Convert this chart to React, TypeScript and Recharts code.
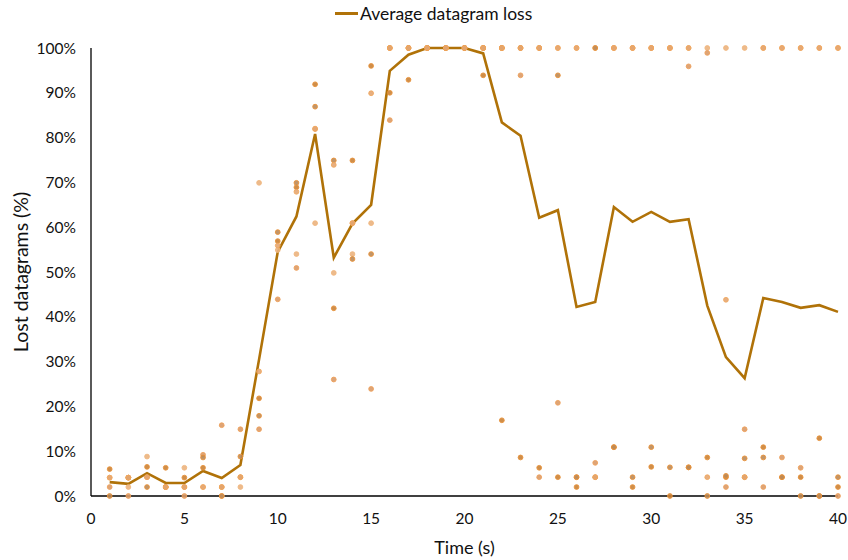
import React from "react";
import {
  ComposedChart,
  Line,
  Scatter,
  XAxis,
  YAxis,
} from "recharts";

// seconds 1..40
const times = Array.from({ length: 40 }, (_, i) => i + 1);

// average loss across the five runs (%)
const avgLoss = [
  3.1, 2.7, 5.1, 2.9, 2.9, 5.6, 4.0, 6.9, 30.5, 54.5, 62.4, 80.8, 53.2, 60.8,
  65.0, 94.9, 98.5, 100, 100, 100, 98.8, 83.4, 80.4, 62.1, 63.8, 42.2, 43.3,
  64.5, 61.2, 63.4, 61.2, 61.8, 42.5, 31.0, 26.3, 44.2, 43.3, 42.0, 42.6, 41.1,
];

// per-run loss (%)
const runA = [
  6.0, 4.1, 6.5, 6.3, 4.1, 6.3, 2.0, 4.2, 21.8, 56.9, 68.9, 91.9, 41.9, 74.9,
  96.0, 90.0, 92.9, 100, 100, 100, 93.9, 16.9, 8.6, 6.3, 4.2, 2.0, 4.2, 10.9,
  2.0, 6.5, 0, 6.4, 8.6, 4.2, 4.2, 10.9, 4.2, 4.2, 12.9, 2.0,
];
const runB = [
  4.1, 2.0, 8.8, 2.0, 6.3, 2.0, 0, 2.0, 69.9, 54.9, 54.0, 60.9, 49.8, 54.0,
  60.9, 100, 100, 100, 100, 100, 100, 100, 100, 100, 100, 100, 100, 100, 100,
  100, 100, 100, 100, 100, 100, 100, 100, 100, 100, 100,
];
const runC = [
  2.0, 0, 4.2, 2.0, 0, 9.2, 15.8, 14.9, 14.9, 43.9, 50.9, 81.9, 26.0, 60.9,
  23.9, 83.9, 100, 100, 100, 100, 100, 100, 93.9, 4.2, 20.8, 4.2, 7.4, 100,
  100, 100, 100, 95.9, 98.9, 2.0, 14.9, 2.0, 8.6, 6.3, 0, 0,
];
const runD = [
  0, 4.1, 2.0, 2.0, 2.0, 8.6, 0, 8.8, 17.9, 58.9, 69.9, 86.9, 74.9, 52.9,
  54.0, 100, 100, 100, 100, 100, 100, 100, 100, 100, 93.9, 4.2, 100, 10.9,
  4.2, 10.9, 6.4, 6.4, 0, 4.5, 8.4, 8.6, 4.2, 0, 0, 4.2,
];
const runE = [
  4.1, 4.1, 4.2, 2.0, 2.0, 2.0, 2.0, 4.2, 27.8, 55.9, 67.9, 82.0, 73.9, 60.9,
  89.9, 100, 100, 100, 100, 100, 100, 100, 100, 100, 100, 100, 4.2, 100, 100,
  100, 100, 100, 4.2, 43.8, 4.2, 100, 100, 100, 100, 100,
];

const xTicks = [0, 5, 10, 15, 20, 25, 30, 35, 40];
const yTicks = [0, 10, 20, 30, 40, 50, 60, 70, 80, 90, 100];

const runs = [
  { key: "a", values: runA, fill: "#c98237", stroke: "#e8923a" },
  { key: "b", values: runB, fill: "#eab27f", stroke: "#f1b77e" },
  { key: "c", values: runC, fill: "#d99a68", stroke: "#eea05a" },
  { key: "d", values: runD, fill: "#b98a5a", stroke: "#ea9136" },
  { key: "e", values: runE, fill: "#e3a673", stroke: "#f0a75e" },
];

const data = times.map((t, i) => {
  const row: Record<string, number> = { t, avg: avgLoss[i] };
  runs.forEach((r) => {
    row[r.key] = r.values[i];
  });
  return row;
});

const FONT = "Lato, 'Open Sans', sans-serif";
const LINE_COLOR = "#b07208";
const TEXT = "#111";

const dotShape = (fill: string, stroke: string) => (props: any) => (
  <circle
    cx={props.cx}
    cy={props.cy}
    r={2.4}
    fill={fill}
    stroke={stroke}
    strokeWidth={0.9}
    fillOpacity={0.9}
  />
);

export default function App() {
  return (
    <div
      style={{
        position: "absolute",
        left: 0,
        top: 0,
        width: 848,
        height: 560,
        background: "#fff",
        fontFamily: FONT,
      }}
    >
      <div
        style={{
          position: "absolute",
          top: 3,
          left: 335,
          display: "flex",
          alignItems: "center",
          fontSize: 17.5,
          color: TEXT,
          whiteSpace: "nowrap",
        }}
      >
        <span
          style={{
            display: "inline-block",
            width: 23,
            height: 2.5,
            background: LINE_COLOR,
            marginRight: 2,
          }}
        />
        <span>Average datagram loss</span>
      </div>
      <ComposedChart
        width={848}
        height={560}
        data={data}
        margin={{ top: 48, right: 10, bottom: 0, left: 0 }}
      >
        <XAxis
          dataKey="t"
          type="number"
          domain={[0, 40]}
          ticks={xTicks}
          interval={0}
          height={64}
          axisLine={{ stroke: "#000", strokeWidth: 1.3 }}
          tickLine={false}
          tickSize={0}
          tickMargin={17}
          tick={{ fill: TEXT, fontSize: 15.5, fontFamily: FONT }}
          label={{
            value: "Time (s)",
            position: "insideBottom",
            offset: 6,
            fill: TEXT,
            fontSize: 18,
            fontFamily: FONT,
          }}
        />
        <YAxis
          type="number"
          domain={[0, 100]}
          ticks={yTicks}
          interval={0}
          width={91}
          axisLine={{ stroke: "#000", strokeWidth: 1.3 }}
          tickLine={false}
          tickSize={0}
          tickMargin={15}
          tickFormatter={(v: number) => `${v}%`}
          tick={{ fill: TEXT, fontSize: 15.5, fontFamily: FONT }}
          label={{
            value: "Lost datagrams (%)",
            angle: -90,
            position: "insideLeft",
            offset: 21,
            fill: TEXT,
            fontSize: 19.5,
            fontFamily: FONT,
            style: { textAnchor: "middle" },
          }}
        />
        {runs.map((r) => (
          <Scatter
            key={r.key}
            dataKey={r.key}
            isAnimationActive={false}
            shape={dotShape(r.fill, r.stroke)}
          />
        ))}
        <Line
          dataKey="avg"
          type="linear"
          stroke={LINE_COLOR}
          strokeWidth={2.6}
          dot={false}
          activeDot={false}
          isAnimationActive={false}
        />
      </ComposedChart>
    </div>
  );
}
